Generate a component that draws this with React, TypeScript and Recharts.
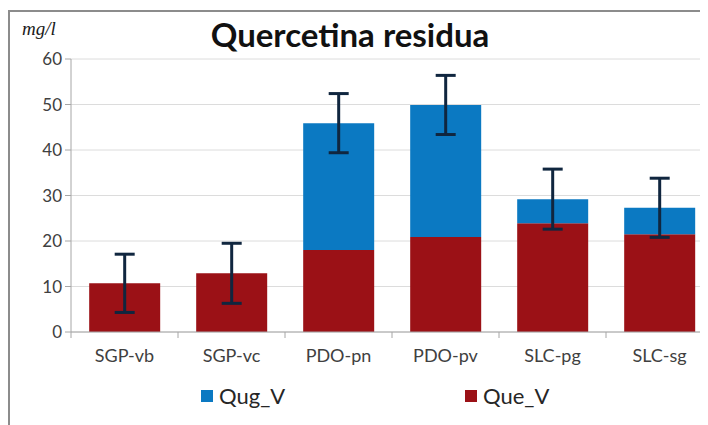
import { BarChart, Bar, XAxis, YAxis, CartesianGrid, ErrorBar, Legend } from 'recharts';

const categories = ['SGP-vb', 'SGP-vc', 'PDO-pn', 'PDO-pv', 'SLC-pg', 'SLC-sg'];
const queV = [10.7, 12.9, 18.0, 20.9, 23.9, 21.5];
const qugV = [0, 0, 27.9, 29.0, 5.3, 5.8];
const errV = [6.4, 6.6, 6.5, 6.5, 6.6, 6.5];
const yTicks = [0, 10, 20, 30, 40, 50, 60];

const RED = '#9b1116';
const BLUE = '#0b79c2';
const ERR = '#10263f';
const FONT = 'Lato, "Open Sans", sans-serif';

// error bar sits on whichever segment is on top of the stack
const data = categories.map((name, i) => ({
  name,
  Que_V: queV[i],
  Qug_V: qugV[i],
  errQue: qugV[i] > 0 ? undefined : errV[i],
  errQug: qugV[i] > 0 ? errV[i] : undefined,
}));

const legendItems = [
  { label: 'Qug_V', color: BLUE, left: 191 },
  { label: 'Que_V', color: RED, left: 455 },
];

const CategoryTick = (props: any) => {
  const { x, y, payload } = props;
  const half = 53.5;
  return (
    <g>
      <line x1={x - half} x2={x - half} y1={y - 8} y2={y - 2} stroke="#a6a6a6" strokeWidth={1} />
      <text x={x} y={y + 22} textAnchor="middle" fill="#404040" fontSize={18} fontFamily={FONT}>
        {payload.value}
      </text>
    </g>
  );
};

const renderLegend = () => (
  <div style={{ position: 'relative', height: 30 }}>
    {legendItems.map((it) => (
      <div
        key={it.label}
        style={{
          position: 'absolute',
          left: it.left,
          top: 0,
          display: 'flex',
          alignItems: 'center',
          fontFamily: FONT,
          fontSize: 22,
          color: '#262626',
        }}
      >
        <span style={{ display: 'inline-block', width: 12, height: 12, background: it.color, marginRight: 6 }} />
        {it.label}
      </div>
    ))}
  </div>
);

export default function App() {
  return (
    <div
      style={{
        position: 'relative',
        width: 698,
        height: 413,
        marginTop: 2,
        borderTop: '2px solid #8c8c8c',
        borderLeft: '2px solid #8c8c8c',
        overflow: 'hidden',
        background: '#fff',
      }}
    >
      <div
        style={{
          position: 'absolute',
          left: 12,
          top: 6,
          fontFamily: '"Liberation Serif", "DejaVu Serif", serif',
          fontStyle: 'italic',
          fontSize: 19,
          color: '#1a1a1a',
        }}
      >
        mg/l
      </div>
      <div
        style={{
          position: 'absolute',
          left: 0,
          width: 680,
          top: 2,
          textAlign: 'center',
          fontFamily: FONT,
          fontWeight: 700,
          fontSize: 33,
          color: '#111',
        }}
      >
        Quercetina residua
      </div>
      <BarChart
        width={712}
        height={413}
        data={data}
        barCategoryGap="17%"
        margin={{ top: 47, right: 9, left: 0, bottom: 10 }}
      >
        <CartesianGrid vertical={false} stroke="#dcdcdc" />
        <XAxis
          dataKey="name"
          stroke="#a6a6a6"
          tickLine={false}
          tick={<CategoryTick />}
          height={50}
          interval={0}
        />
        <YAxis
          domain={[0, 60]}
          ticks={yTicks}
          width={61}
          stroke="#a6a6a6"
          tickSize={6}
          tickMargin={3}
          tick={{ fill: '#404040', fontSize: 17, fontFamily: FONT }}
        />
        <Legend verticalAlign="bottom" content={renderLegend} height={33} />
        <Bar dataKey="Que_V" stackId="a" fill={RED} isAnimationActive={false}>
          <ErrorBar dataKey="errQue" width={10} strokeWidth={3} stroke={ERR} direction="y" />
        </Bar>
        <Bar dataKey="Qug_V" stackId="a" fill={BLUE} isAnimationActive={false}>
          <ErrorBar dataKey="errQug" width={10} strokeWidth={3} stroke={ERR} direction="y" />
        </Bar>
      </BarChart>
    </div>
  );
}
